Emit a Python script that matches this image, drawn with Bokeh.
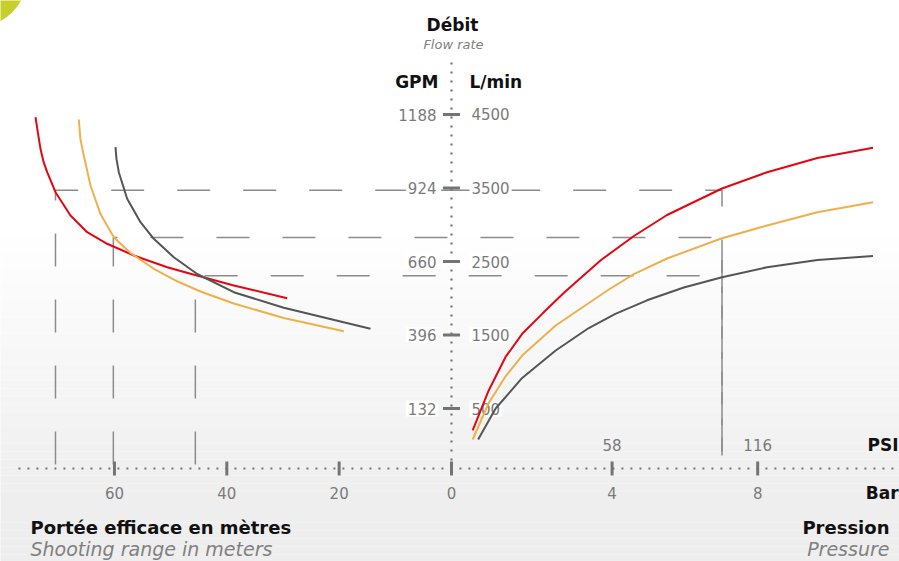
import numpy as np
from bokeh.plotting import figure
from bokeh.models import Range1d
from bokeh.core.properties import value
from bokeh.embed import file_html
from bokeh.resources import INLINE

# ---------------- data ----------------
lmin_ticks = [4500, 3500, 2500, 1500, 500]
gpm_ticks = [1188, 924, 660, 396, 132]
meter_ticks = [60, 40, 20, 0]
bar_ticks = [4, 8]
psi_ticks = [58, 116]

# Flow rate (L/min) against pressure (bar)
red_bar = [0.17, 0.61, 1.07, 1.53, 2.08, 2.67, 3.68, 4.60, 5.51, 7.02, 8.26, 9.64, 11.17]
red_flow = [201, 745, 1198, 1516, 1788, 2071, 2514, 2847, 3133, 3493, 3715, 3908, 4047]
orange_bar = [0.17, 0.61, 1.07, 1.53, 2.45, 3.91, 4.60, 5.51, 7.02, 8.26, 9.64, 11.17]
orange_flow = [78, 575, 935, 1221, 1629, 2119, 2327, 2541, 2817, 2990, 3171, 3307]
gray_bar = [0.32, 0.80, 1.53, 2.45, 3.36, 4.09, 4.96, 5.97, 7.02, 8.26, 9.64, 11.17]
gray_flow = [78, 500, 916, 1289, 1595, 1787, 1972, 2146, 2286, 2422, 2520, 2575]

# Flow rate (L/min) against shooting range (m)
red_m = [74.06, 73.65, 73.17, 72.61, 71.98, 70.50, 67.83, 64.86, 61.30, 56.56,
         50.61, 46.47, 38.76, 29.25]
red_flow_m = [4463, 4259, 4033, 3851, 3715, 3443, 3126, 2899, 2741, 2582,
              2422, 2333, 2173, 2001]
orange_m = [66.35, 66.07, 65.46, 64.27, 62.49, 60.12, 57.15, 53.00, 48.83,
            44.69, 38.76, 29.86, 19.17]
orange_flow_m = [4432, 4169, 3942, 3534, 3146, 2831, 2616, 2401, 2231,
                 2092, 1929, 1731, 1552]
gray_m = [59.82, 59.64, 59.23, 57.74, 55.37, 53.00, 49.44, 45.27, 38.76,
          29.86, 14.42]
gray_flow_m = [4055, 3897, 3715, 3353, 3035, 2809, 2558, 2330, 2082,
               1870, 1584]

# Working point at 7 bar for each nozzle
op_bar = 7.02
op_range = [70.5, 60.2, 45.6]
op_flow = [3470, 2825, 2305]

# ---------------- style ----------------
RED = "#e30613"
ORANGE = "#efb04b"
DARK = "#555555"
AXIS = "#747474"
DASH = "#8c8c8c"
TICKTXT = "#7a7a7a"
FONT = value("DejaVu Sans")

xr = Range1d(80.29, -79.76)      # metres (reversed)
br = Range1d(-12.802, 11.896)    # bar
yr = Range1d(-1581.6, 6051)      # L/min

p = figure(width=899, height=561, x_range=xr, y_range=yr,
           output_backend="svg", toolbar_location=None,
           x_axis_location=None, y_axis_location=None,
           min_border=0, outline_line_color=None,
           background_fill_color="white", border_fill_color="white")
p.extra_x_ranges = {"bar": br}
p.xgrid.visible = False
p.ygrid.visible = False


def m2b(m):
    frac = (m - xr.start) / (xr.end - xr.start)
    return br.start + frac * (br.end - br.start)


AXIS_Y = -316

# background gradient (decoration)
edges = np.linspace(2922, -1700, 44)
for top, bot in zip(edges[:-1], edges[1:]):
    mid = 0.5 * (top + bot)
    t = min(max((2922 - mid) / (2922 + 755), 0), 1)
    g = int(round(255 - 17 * t))
    p.quad(left=100, right=-100, top=top, bottom=bot,
           fill_color=f"#{g:02x}{g:02x}{g:02x}", line_color=None)

# decorative blob in the corner
p.scatter(x=[84.74], y=[6391], size=104, marker="circle",
          fill_color="#c9cf2a", line_color=None)

# dashed guide lines (one polyline per nozzle)
xs, ys = [], []
for r, f in zip(op_range, op_flow):
    xs.append([m2b(r), m2b(r), op_bar, op_bar])
    ys.append([-262, f, f, -140])
p.multi_line(xs, ys, x_range_name="bar", line_color=DASH, line_width=1.5,
             line_dash="33 33")

# axes (dotted)
p.line([77.1, -80], [AXIS_Y, AXIS_Y], line_color=AXIS, line_width=2.2,
       line_dash="2 7")
p.line([0, 0], [5207, AXIS_Y], line_color=AXIS, line_width=2.2,
       line_dash="2 7")

# ticks
p.scatter(x=[0] * len(lmin_ticks), y=lmin_ticks, marker="dash", size=17,
          line_width=3, line_color=AXIS)
p.scatter(x=meter_ticks, y=[AXIS_Y] * len(meter_ticks), marker="dash",
          angle=np.pi / 2, size=14, line_width=3, line_color=AXIS)
p.scatter(x=bar_ticks, y=[AXIS_Y] * len(bar_ticks), marker="dash",
          angle=np.pi / 2, size=14, line_width=3, line_color=AXIS,
          x_range_name="bar")

# tick labels on vertical axis
box = dict(background_fill_color="white", padding=2)
p.text(x=[0] * len(gpm_ticks), y=[g * 3.7854 for g in gpm_ticks],
       text=[str(g) for g in gpm_ticks], x_offset=-13,
       text_align="right", text_baseline="middle", text_font=FONT,
       text_font_size="15px", text_color=TICKTXT, **box)
p.text(x=[0] * len(lmin_ticks), y=lmin_ticks,
       text=[str(v) for v in lmin_ticks], x_offset=18,
       text_align="left", text_baseline="middle", text_font=FONT,
       text_font_size="15px", text_color=TICKTXT, **box)

# tick labels on horizontal axis
p.text(x=meter_ticks, y=[AXIS_Y] * len(meter_ticks),
       text=[str(v) for v in meter_ticks], y_offset=25,
       text_align="center", text_baseline="middle", text_font=FONT,
       text_font_size="15px", text_color=TICKTXT)
p.text(x=bar_ticks, y=[AXIS_Y] * len(bar_ticks),
       text=[str(v) for v in bar_ticks], y_offset=25, x_range_name="bar",
       text_align="center", text_baseline="middle", text_font=FONT,
       text_font_size="15px", text_color=TICKTXT)
p.text(x=bar_ticks, y=[AXIS_Y] * len(bar_ticks),
       text=[str(v) for v in psi_ticks], y_offset=-23, x_range_name="bar",
       text_align="center", text_baseline="middle", text_font=FONT,
       text_font_size="15px", text_color=TICKTXT)


# titles
def txt(x, y, s, size, style, color, align, rng="default", xo=0, yo=0):
    p.text(x=[x], y=[y], text=[s], x_offset=xo, y_offset=yo,
           text_align=align, text_baseline="middle", text_font=FONT,
           text_font_size=size, text_font_style=style, text_color=color,
           x_range_name=rng)


txt(0, 5711, "Débit", "17px", "bold", "#111111", "center", xo=1)
txt(0, 5452, "Flow rate", "13px", "italic", "#808080", "center", xo=2)
txt(0, 4942, "GPM", "17px", "bold", "#111111", "right", xo=-13)
txt(0, 4942, "L/min", "17px", "bold", "#111111", "left", xo=18)
txt(11.87, AXIS_Y, "PSI", "17px", "bold", "#111111", "right", rng="bar", yo=-23)
txt(11.87, AXIS_Y, "Bar", "17px", "bold", "#111111", "right", rng="bar", yo=25)
txt(74.95, -1119, "Portée efficace en mètres", "18px", "bold", "#111111", "left")
txt(74.95, -1405, "Shooting range in meters", "19px", "italic", "#808080", "left")
txt(11.62, -1119, "Pression", "18px", "bold", "#111111", "right", rng="bar")
txt(11.62, -1405, "Pressure", "19px", "italic", "#808080", "right", rng="bar")

# curves
p.line(red_m, red_flow_m, line_color=RED, line_width=2)
p.line(orange_m, orange_flow_m, line_color=ORANGE, line_width=2)
p.line(gray_m, gray_flow_m, line_color=DARK, line_width=2)
p.line(red_bar, red_flow, line_color=RED, line_width=2, x_range_name="bar")
p.line(orange_bar, orange_flow, line_color=ORANGE, line_width=2, x_range_name="bar")
p.line(gray_bar, gray_flow, line_color=DARK, line_width=2, x_range_name="bar")

open("out.html", "w").write(file_html(p, INLINE))
